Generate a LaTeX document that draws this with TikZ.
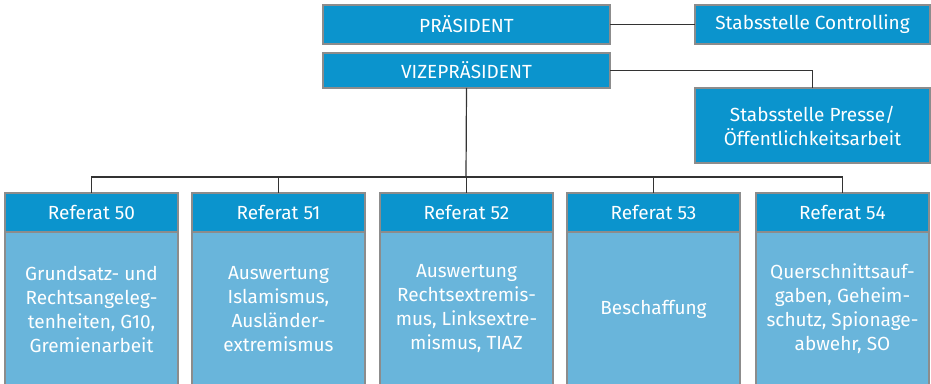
\documentclass[tikz,border=0pt]{standalone}
\usepackage{fontspec}
\setmainfont{Fira Sans}
\usetikzlibrary{positioning}
\definecolor{kopfblau}{HTML}{0B94CD}
\definecolor{feldblau}{HTML}{69B5DB}
\definecolor{rahmen}{HTML}{8C8C8C}
\definecolor{linie}{HTML}{333333}

\begin{document}
\begin{tikzpicture}[x=0.5pt, y=-0.5pt,
                node distance=7pt,
                leitung/.style={rectangle, draw=rahmen, line width=0.6pt, fill=kopfblau, text=white, minimum width=143.5pt, minimum height=19.5pt, inner sep=0pt, outer sep=0pt, font=\fontsize{9.5}{12}\selectfont},
                stabbox/.style={leitung, minimum width=117.5pt, align=center},
                kopf/.style={leitung, minimum width=86.5pt},
                feld/.style={kopf, fill=feldblau, minimum height=77pt, align=center},
                verbindung/.style={draw=linie, line width=0.6pt}
            ]
            \useasboundingbox (0,0) rectangle (931,384);

            \node[leitung, anchor=north west] (praes) at (323,5) {PRÄSIDENT};
            \node[leitung, minimum height=17.5pt, below=4.5pt of praes] (vize) {VIZEPRÄSIDENT};
            \node[stabbox, anchor=north west] (controlling) at (695,5) {Stabsstelle Controlling};
            \node[stabbox, anchor=north west, minimum height=37.5pt] (presse) at (695,88) {Stabsstelle Presse/\\Öffentlichkeitsarbeit};

            \node[kopf, anchor=north west] (r50) at (5,193) {Referat 50};
            \node[kopf, right=of r50] (r51) {Referat 51};
            \node[kopf, right=7.5pt of r51] (r52) {Referat 52};
            \node[kopf, right=of r52] (r53) {Referat 53};
            \node[kopf, right=8pt of r53] (r54) {Referat 54};

            \node[feld, below=0pt of r50] (a50) {Grundsatz- und\\Rechtsangeleg-\\tenheiten, G10,\\Gremienarbeit};
            \node[feld, below=0pt of r51] (a51) {Auswertung\\Islamismus,\\Ausländer-\\extremismus};
            \node[feld, below=0pt of r52] (a52) {Auswertung\\Rechtsextremis-\\mus, Linksextre-\\mismus, TIAZ};
            \node[feld, below=0pt of r53] (a53) {Beschaffung};
            \node[feld, below=0pt of r54] (a54) {Querschnittsauf-\\gaben, Geheim-\\schutz, Spionage-\\abwehr, SO};

            \coordinate (bus) at (466,177);

            \draw[verbindung] (praes) -- (controlling);
            \draw[verbindung] (vize.east) -| (presse.north);
            \draw[verbindung] (vize.south) -- (bus);
            \draw[verbindung] (r50.north) |- (bus) -| (r54.north);
            \draw[verbindung] (r51.north) -- (r51.north |- bus);
            \draw[verbindung] (r52.north) -- (r52.north |- bus);
            \draw[verbindung] (r53.north) -- (r53.north |- bus);
        \end{tikzpicture}
\end{document}
